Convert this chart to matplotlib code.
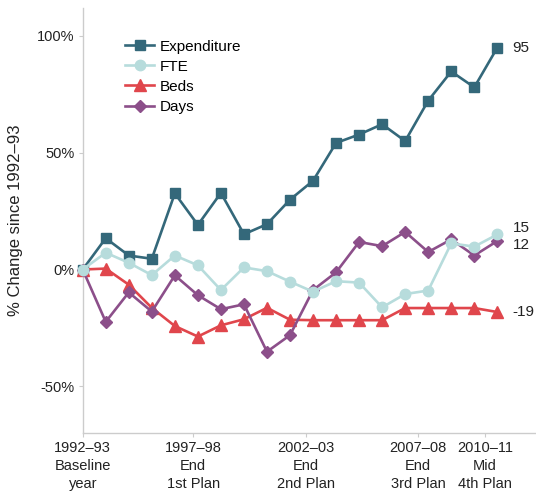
import numpy as np
import matplotlib
matplotlib.use("Agg")
import matplotlib.pyplot as plt

plt.rcParams['font.family'] = ['Liberation Sans', 'DejaVu Sans']

# values (% change since 1992-93), 19 annual points
expenditure = [0, 13.4, 6, 4.6, 32.6, 19.1, 32.8, 15.1, 19.4, 29.9, 38,
               54.2, 57.8, 62.2, 55, 72.3, 84.8, 78, 95]
fte = [0, 7.2, 2.9, -2.4, 6, 1.8, -8.8, 0.9, -0.7, -5.2, -9.5,
       -5, -5.6, -16.2, -10.5, -9, 11.2, 9.8, 15]
beds = [0, 0.4, -6.5, -16.4, -24.2, -28.7, -23.9, -21.3, -16.4, -21.5, -21.7,
        -21.7, -21.7, -21.7, -16.5, -16.5, -16.5, -16.5, -18.2]
days = [0, -22.4, -9.8, -18, -2.5, -11, -17, -14.9, -35.2, -28.1, -8.8,
        -1.2, 11.8, 10, 16.1, 7.5, 12.9, 6, 12.2]
end_labels = ["95", "15", "-19", "12"]

tick_labels = ["1992\u201393\nBaseline\nyear", "1997\u201398\nEnd\n1st Plan",
               "2002\u201303\nEnd\n2nd Plan", "2007\u201308\nEnd\n3rd Plan",
               "2010\u201311\nMid\n4th Plan"]
tick_pos = [0, 4.8, 9.69, 14.57, 17.47]

x = np.arange(len(expenditure))

fig = plt.figure(figsize=(5.36, 4.96), dpi=100)
ax = fig.add_axes([0.1543, 0.127, 0.8457, 0.857])

series = [
    ("Expenditure", expenditure, "#34687a", "s", 7, 2),
    ("FTE", fte, "#b7dcdc", "o", 7.5, 5),
    ("Beds", beds, "#e0464c", "^", 8, 3),
    ("Days", days, "#8c4f8a", "D", 6.5, 4),
]
lines = []
for name, vals, col, mk, ms, z in series:
    ln, = ax.plot(x, vals, color=col, marker=mk, markersize=ms, lw=1.9,
                  label=name, zorder=z, clip_on=False)
    lines.append(ln)

# end labels
offsets = [0, 5, 0, -3]
for (name, vals, col, mk, ms, z), lab, dy in zip(series, end_labels, offsets):
    ax.annotate(lab, (x[-1], vals[-1]), xytext=(11, dy), textcoords="offset points",
                ha="left", va="center", fontsize=11, color="#222222")

ax.set_xlim(0, 19.68)
ax.set_ylim(-70, 112)
ax.set_yticks([-50, 0, 50, 100])
ax.set_yticklabels(["-50%", "0%", "50%", "100%"])
ax.set_xticks(tick_pos)
ax.set_xticklabels(tick_labels, linespacing=1.35)
ax.set_ylabel("% Change since 1992\u201393", fontsize=12, color="#222222", labelpad=10)

for s in ["top", "right"]:
    ax.spines[s].set_visible(False)
for s in ["left", "bottom"]:
    ax.spines[s].set_color("#cccccc")
    ax.spines[s].set_linewidth(1)
ax.tick_params(axis="both", length=3, color="#cccccc", labelsize=10.5,
               labelcolor="#222222", pad=3)

ax.legend(handles=lines, loc="upper left", bbox_to_anchor=(0.08, 0.94),
          frameon=False, fontsize=11, handlelength=1.9, labelspacing=0.4,
          handletextpad=0.4, borderaxespad=0)

fig.savefig("out.png", dpi=100)
